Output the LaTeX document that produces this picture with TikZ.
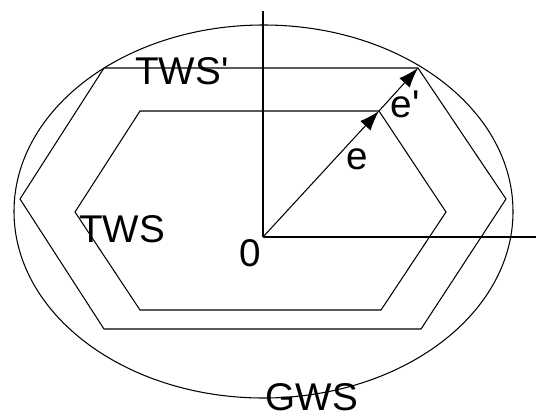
\documentclass[tikz,border=0pt]{standalone}
\usepackage{fontspec}
\setmainfont{Liberation Sans}
\usetikzlibrary{arrows.meta}

\begin{document}
\begin{tikzpicture}[x=0.02cm, y=-0.02cm, line width=0.6pt,
    lbl/.style={font=\fontsize{22}{24}\selectfont, inner sep=0pt},
    vec/.style={-{Latex[length=0.4cm, width=0.28cm]}}]
    \useasboundingbox (0,0) rectangle (536,419);

    % axes
    \coordinate (O) at (263,237);
    \coordinate (yend) at (263,11);
    \coordinate (xend) at (536,237);
    \draw (O) -- (yend);
    \draw (O) -- (xend);

    % GWS
    \draw (263.5,211.5) ellipse [x radius=249.5, y radius=186.5];

    % TWS' (outer)
    \coordinate (a1) at (104,68);
    \coordinate (a2) at (418,68);
    \coordinate (a3) at (506,199);
    \coordinate (a4) at (421,329);
    \coordinate (a5) at (104,329);
    \coordinate (a6) at (20,199);
    \draw (a1) -- (a2) -- (a3) -- (a4) -- (a5) -- (a6) -- cycle;

    % TWS (inner)
    \coordinate (b1) at (140,111);
    \coordinate (b2) at (379,111);
    \coordinate (b3) at (446,212);
    \coordinate (b4) at (381,310);
    \coordinate (b5) at (140,310);
    \coordinate (b6) at (75,212);
    \draw (b1) -- (b2) -- (b3) -- (b4) -- (b5) -- (b6) -- cycle;

    % vectors
    \draw[vec] (O) -- (b2);
    \draw[vec] (b2) -- (a2);

    % labels
    \node[lbl] (twsp) at (182,71) {TWS\textquotesingle};
    \node[lbl] (tws) at (122,229) {TWS};
    \node[lbl] (zero) at (250,253) {0};
    \node[lbl] (e) at (357,159) {e};
    \node[lbl] (ep) at (405,104) {e\textquotesingle};
    \node[lbl] (gws) at (312,397) {GWS};
\end{tikzpicture}
\end{document}
